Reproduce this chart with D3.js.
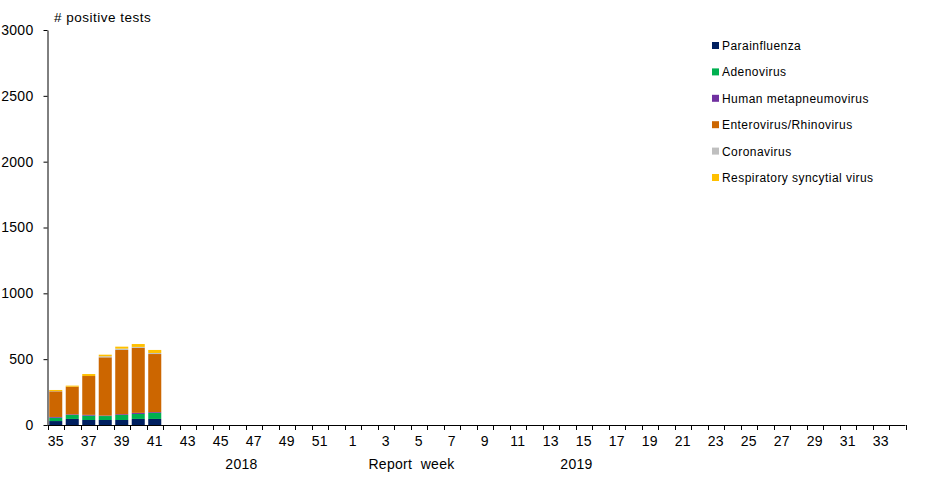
<!DOCTYPE html>
<html lang="en">
<head>
<meta charset="UTF-8">
<title>Positive tests by report week</title>
<script src="https://cdnjs.cloudflare.com/ajax/libs/d3/7.8.5/d3.min.js"></script>
<style>
  body { margin: 0; background: #fff; }
  text { font-family: "Liberation Sans", Arial, sans-serif; fill: #000; }
</style>
</head>
<body>
<svg width="933" height="478" id="canvas"></svg>
<script>
// report weeks: 35..52 of 2018, then 1..34 of 2019
const weeks = d3.range(35, 53).concat(d3.range(1, 35));
const yTicks = [0, 500, 1000, 1500, 2000, 2500, 3000];

const viruses = ["Parainfluenza", "Adenovirus", "Human metapneumovirus",
  "Enterovirus/Rhinovirus", "Coronavirus", "Respiratory syncytial virus"];
const colors = ["#002060", "#00b050", "#7030a0", "#cc6600", "#bfbfbf", "#ffc000"];

// only weeks 35-41 have data so far
const parainfluenza = [30, 46, 38, 38, 38, 46, 46];
const adenovirus    = [25, 30, 33, 30, 38, 38, 46];
const metapneumo    = [6, 5, 6, 4, 6, 8, 6];
const enteroRhino   = [195, 210, 295, 442, 488, 495, 441];
const coronavirus   = [2, 0, 0, 8, 10, 6, 8];
const rsv           = [8, 8, 15, 12, 15, 22, 23];

const series = [parainfluenza, adenovirus, metapneumo, enteroRhino, coronavirus, rsv];

const rows = weeks.map((w, i) => {
  const r = { week: w, idx: i };
  viruses.forEach((v, k) => { r[v] = series[k][i] || 0; });
  return r;
});

const svg = d3.select("#canvas");
const mLeft = 47.5, mRight = 905.5, mTop = 30, mBottom = 425;

const x = d3.scaleBand().domain(d3.range(weeks.length)).range([mLeft, mRight]).paddingInner(0.21).paddingOuter(0.105);
const y = d3.scaleLinear().domain([0, 3000]).range([mBottom, mTop]);

const stacked = d3.stack().keys(viruses)(rows);

svg.append("g").selectAll("g")
  .data(stacked)
  .join("g")
  .attr("fill", (d, i) => colors[i])
  .selectAll("rect")
  .data(d => d)
  .join("rect")
  .attr("x", d => x(d.data.idx))
  .attr("width", x.bandwidth())
  .attr("y", d => y(d[1]))
  .attr("height", d => y(d[0]) - y(d[1]));

// y axis
const yAxis = d3.axisLeft(y).tickValues(yTicks).tickFormat(d3.format("d"))
  .tickSize(4).tickSizeOuter(0).tickPadding(10);
const gy = svg.append("g").attr("transform", "translate(" + mLeft + ",0)").call(yAxis);
gy.selectAll("text").style("font-size", "14px").style("font-family", "Liberation Sans, Arial").style("letter-spacing", "0.3px");
gy.select(".domain").attr("stroke", "#000");

// x axis: ticks on category edges, labels every other week
const step = x.step();
const edges = d3.range(weeks.length + 1);
const gx = svg.append("g");
gx.append("line").attr("x1", mLeft).attr("x2", mRight).attr("y1", mBottom + 0.5).attr("y2", mBottom + 0.5).attr("stroke", "#000");
gx.selectAll("line.tk").data(edges).join("line").attr("class", "tk")
  .attr("x1", d => Math.round(mLeft + d * step) + 0.5).attr("x2", d => Math.round(mLeft + d * step) + 0.5)
  .attr("y1", mBottom).attr("y2", mBottom + 5).attr("stroke", "#000");
gx.selectAll("text").data(rows.filter((d, i) => i % 2 === 0)).join("text")
  .attr("x", d => x(d.idx) + x.bandwidth() / 2)
  .attr("y", 446)
  .attr("text-anchor", "middle")
  .style("font-size", "14px")
  .style("letter-spacing", "0.3px")
  .text(d => d.week);

const xAt = i => mLeft + (i + 0.5) * step;
svg.append("text").attr("x", xAt(11.26)).attr("y", 469).attr("text-anchor", "middle").style("font-size", "14px").style("letter-spacing", "0.3px").text("2018");
svg.append("text").attr("x", xAt(21.56)).attr("y", 469).attr("text-anchor", "middle").style("font-size", "14px").style("letter-spacing", "0.3px").style("white-space", "pre").text("Report  week");
svg.append("text").attr("x", xAt(31.56)).attr("y", 469).attr("text-anchor", "middle").style("font-size", "14px").style("letter-spacing", "0.3px").text("2019");

svg.append("text").attr("x", 54).attr("y", 22).style("font-size", "13.5px").style("letter-spacing", "0.5px").text("# positive tests");

// legend
const legend = svg.append("g").selectAll("g").data(viruses).join("g")
  .attr("transform", (d, i) => "translate(712," + (45 + i * 26.4) + ")");
legend.append("rect").attr("x", 0).attr("y", -3).attr("width", 7).attr("height", 7).attr("fill", (d, i) => colors[i]);
legend.append("text").attr("x", 10).attr("y", 5).style("font-size", "12px").style("letter-spacing", "0.45px").text(d => d);
</script>
</body>
</html>
